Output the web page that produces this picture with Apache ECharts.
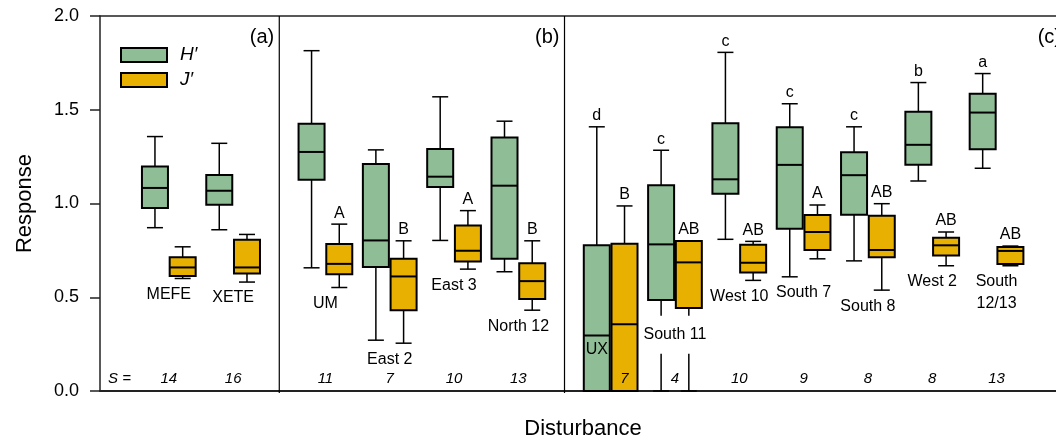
<!DOCTYPE html>
<html>
<head>
<meta charset="utf-8">
<script src="https://cdn.jsdelivr.net/npm/echarts@6/dist/echarts.min.js"></script>
<style>
  html, body { margin: 0; padding: 0; background: #fff; }
  #chart { width: 1056px; height: 439px; }
</style>
</head>
<body>
<div id="chart"></div>
<script>
// Sites, grouped into three disturbance panels
const sites = ['MEFE', 'XETE', 'UM', 'East 2', 'East 3', 'North 12', 'UX',
  'South 11', 'West 10', 'South 7', 'South 8', 'West 2', 'South 12/13'];
const panelOf = [0, 0, 1, 1, 1, 1, 2, 2, 2, 2, 2, 2, 2];
const panelNames = ['(a)', '(b)', '(c)'];
// species richness S per site
const richness = [14, 16, 11, 7, 10, 13, 7, 4, 10, 9, 8, 8, 13];

// Shannon diversity H' : [min, Q1, median, Q3, max]
const hPrime = [
  [0.871, 0.976, 1.083, 1.197, 1.357],
  [0.860, 0.994, 1.068, 1.152, 1.321],
  [0.657, 1.127, 1.275, 1.425, 1.815],
  [0.271, 0.661, 0.803, 1.211, 1.286],
  [0.803, 1.088, 1.143, 1.291, 1.569],
  [0.636, 0.705, 1.095, 1.352, 1.439],
  [0.000, 0.000, 0.296, 0.778, 1.409],
  [0.000, 0.486, 0.782, 1.097, 1.284],
  [0.809, 1.052, 1.129, 1.428, 1.806],
  [0.609, 0.865, 1.206, 1.407, 1.532],
  [0.694, 0.940, 1.151, 1.273, 1.409],
  [1.120, 1.207, 1.313, 1.490, 1.645],
  [1.188, 1.290, 1.485, 1.585, 1.693]
];
// Pielou evenness J' : [min, Q1, median, Q3, max]
const jPrime = [
  [0.600, 0.614, 0.659, 0.714, 0.769],
  [0.581, 0.627, 0.659, 0.807, 0.835],
  [0.552, 0.623, 0.678, 0.784, 0.890],
  [0.255, 0.431, 0.611, 0.705, 0.801],
  [0.650, 0.691, 0.748, 0.883, 0.962],
  [0.431, 0.491, 0.586, 0.682, 0.801],
  [0.000, 0.000, 0.356, 0.785, 0.987],
  [0.000, 0.443, 0.686, 0.800, 0.800],
  [0.590, 0.632, 0.684, 0.780, 0.798],
  [0.705, 0.752, 0.848, 0.939, 0.992],
  [0.538, 0.714, 0.752, 0.935, 0.999],
  [0.668, 0.723, 0.777, 0.817, 0.848],
  [0.668, 0.677, 0.747, 0.768, 0.773]
];
// significance groupings
const hLetters = ['', '', '', '', '', '', 'd', 'c', 'c', 'c', 'c', 'b', 'a'];
const jLetters = ['', '', 'A', 'B', 'A', 'B', 'B', 'AB', 'AB', 'A', 'AB', 'AB', 'AB'];

const yTicks = [0, 0.5, 1.0, 1.5, 2.0];

// ---- layout (x in site-step units) ----
const FIRST_SITE = 1.07;
const PANEL_GAP = 0.435;
const PAIR_OFFSET = 0.2155;
const X_MAX = 15.02;
const BOX_W = 26, CAP_W = 16;
const GREEN = '#8fbe96', GOLD = '#e8b000';
const FONT = '"Liberation Sans", Arial, sans-serif';
const NAME_LEVEL_ON_AXIS_BOX = 0.22;   // name written inside a box that sits on the axis
const NAME_LEVEL_ON_WHISKERS = 0.30;   // name written across whiskers running to the axis

function sitePos(i) { return FIRST_SITE + i + PANEL_GAP * panelOf[i]; }

// long site names go on two lines
function siteText(name) { return name.length > 8 ? name.replace(' ', '\n') : name; }

function boxData(stats, side) {
  return stats.map((s, i) => [sitePos(i) + side * PAIR_OFFSET].concat(s));
}

function line(x1, y1, x2, y2, w) {
  return { type: 'line', shape: { x1, y1, x2, y2 }, style: { stroke: '#000', lineWidth: w } };
}

function makeBoxRenderer(letters, color) {
  return function (params, api) {
    const x = api.value(0);
    const mn = api.value(1), q1 = api.value(2), md = api.value(3), q3 = api.value(4), mx = api.value(5);
    const cx = api.coord([x, 0])[0];
    const y = v => api.coord([x, v])[1];
    const children = [
      line(cx, y(q3), cx, y(mx), 1.5),
      line(cx - CAP_W / 2, y(mx), cx + CAP_W / 2, y(mx), 1.5),
      line(cx, y(q1), cx, y(mn), 1.5),
      line(cx - CAP_W / 2, y(mn), cx + CAP_W / 2, y(mn), 1.5),
      { type: 'rect', shape: { x: cx - BOX_W / 2, y: y(q3), width: BOX_W, height: y(q1) - y(q3) },
        style: { fill: color, stroke: '#000', lineWidth: 2 } },
      line(cx - BOX_W / 2, y(md), cx + BOX_W / 2, y(md), 2)
    ];
    const letter = letters[params.dataIndex];
    if (letter) {
      children.push({ type: 'text', x: cx, y: y(mx) - 3,
        style: { text: letter, textAlign: 'center', textVerticalAlign: 'bottom',
          font: '16px ' + FONT, fill: '#000' } });
    }
    return { type: 'group', children };
  };
}

// site names and richness counts
const labelData = sites.map((s, i) => [sitePos(i), Math.min(hPrime[i][0], jPrime[i][0])]);
function renderSiteLabel(params, api) {
  const i = params.dataIndex;
  const x = api.value(0);
  const cx = api.coord([x, 0])[0];
  const y = v => api.coord([x, v])[1];
  const hx = api.coord([x - PAIR_OFFSET, 0])[0];
  const jx = api.coord([x + PAIR_OFFSET, 0])[0];
  const children = [];
  const onAxisBox = hPrime[i][1] === 0;
  const toAxis = api.value(1) === 0;
  const nameStyle = { text: siteText(sites[i]), font: '16px ' + FONT, fill: '#000',
    textAlign: 'center', lineHeight: 22 };
  let nx = cx, ny;
  if (onAxisBox) {
    nx = hx; ny = y(NAME_LEVEL_ON_AXIS_BOX);
    nameStyle.textVerticalAlign = 'middle';
  } else if (toAxis) {
    ny = y(NAME_LEVEL_ON_WHISKERS);
    nameStyle.textVerticalAlign = 'middle';
    nameStyle.backgroundColor = '#fff';
    nameStyle.padding = [8, 2];
  } else {
    ny = y(api.value(1)) + 5;
    nameStyle.textVerticalAlign = 'top';
  }
  children.push({ type: 'text', x: nx, y: ny, style: nameStyle });
  children.push({ type: 'text', x: onAxisBox ? jx : cx, y: y(0) - 12.5,
    style: { text: String(richness[i]), font: 'italic 15px ' + FONT, fill: '#000',
      textAlign: 'center', textVerticalAlign: 'middle' } });
  return { type: 'group', children };
}

// panel frames: dividers and panel tags
const panelData = panelNames.map((n, p) => {
  const idx = panelOf.map((q, i) => q === p ? i : -1).filter(i => i >= 0);
  const last = idx[idx.length - 1];
  const right = p < panelNames.length - 1 ? (sitePos(last) + sitePos(last + 1)) / 2 : X_MAX;
  return [right, 2];
});
function renderPanel(params, api) {
  const p = params.dataIndex;
  const rx = api.coord([api.value(0), 0])[0];
  const top = api.coord([0, 2])[1];
  const bottom = api.coord([0, 0])[1];
  const children = [];
  if (p < panelNames.length - 1) children.push(line(rx, top, rx, bottom + 2, 1.2));
  children.push({ type: 'text', x: rx - 5, y: top + 21,
    style: { text: panelNames[p], font: '20px ' + FONT, fill: '#000', textAlign: 'right', textVerticalAlign: 'middle' } });
  if (p === 0) {
    const lx = api.coord([0, 0])[0];
    children.push({ type: 'text', x: lx + 8, y: bottom - 12.5,
      style: { text: 'S =', font: 'italic 15px ' + FONT, fill: '#000', textAlign: 'left', textVerticalAlign: 'middle' } });
  }
  return { type: 'group', children };
}

const chart = echarts.init(document.getElementById('chart'), null, { renderer: 'canvas' });
chart.setOption({
  animation: false,
  textStyle: { fontFamily: FONT },
  grid: { left: 100, top: 16, width: 966, bottom: 48, containLabel: false, outerBoundsMode: 'none' },
  legend: {
    orient: 'vertical', left: 120, top: 45.5, padding: 0,
    itemWidth: 46, itemHeight: 14, itemGap: 6,
    icon: 'rect',
    itemStyle: { borderColor: '#000', borderWidth: 2 },
    textStyle: { fontSize: 19, fontStyle: 'italic', color: '#000', fontFamily: FONT, padding: [0, 0, 0, 8] },
    data: ['H\u2032', 'J\u2032']
  },
  xAxis: [
    { type: 'value', min: 0, max: X_MAX, position: 'bottom',
      name: 'Disturbance', nameLocation: 'middle', nameGap: 27,
      nameTextStyle: { fontSize: 22, color: '#000', fontFamily: FONT },
      axisLine: { show: true, lineStyle: { color: '#222', width: 2 } },
      axisTick: { show: false }, axisLabel: { show: false }, splitLine: { show: false } },
    { type: 'value', min: 0, max: X_MAX, position: 'top',
      axisLine: { show: true, lineStyle: { color: '#222', width: 1.5 } },
      axisTick: { show: false }, axisLabel: { show: false }, splitLine: { show: false } }
  ],
  yAxis: {
    type: 'value', min: yTicks[0], max: yTicks[yTicks.length - 1], interval: 0.5,
    name: 'Response', nameLocation: 'middle', nameGap: 64,
    nameTextStyle: { fontSize: 22, color: '#000', fontFamily: FONT },
    axisLine: { show: true, lineStyle: { color: '#222', width: 1.5 } },
    axisTick: { show: true, inside: false, length: 10, lineStyle: { color: '#222', width: 1.5 } },
    axisLabel: { fontSize: 18, color: '#000', margin: 21, fontFamily: FONT, formatter: v => v.toFixed(1) },
    splitLine: { show: false }
  },
  series: [
    { type: 'custom', name: 'panels', data: panelData, encode: { x: 0, y: 1 },
      renderItem: renderPanel, z: 1, silent: true },
    { type: 'custom', name: 'H\u2032', data: boxData(hPrime, -1), itemStyle: { color: GREEN },
      encode: { x: 0, y: [1, 2, 3, 4, 5] }, renderItem: makeBoxRenderer(hLetters, GREEN), z: 2 },
    { type: 'custom', name: 'J\u2032', data: boxData(jPrime, 1), itemStyle: { color: GOLD },
      encode: { x: 0, y: [1, 2, 3, 4, 5] }, renderItem: makeBoxRenderer(jLetters, GOLD), z: 2 },
    { type: 'custom', name: 'sites', data: labelData, encode: { x: 0, y: 1 },
      renderItem: renderSiteLabel, z: 3, silent: true }
  ]
});
</script>
</body>
</html>
